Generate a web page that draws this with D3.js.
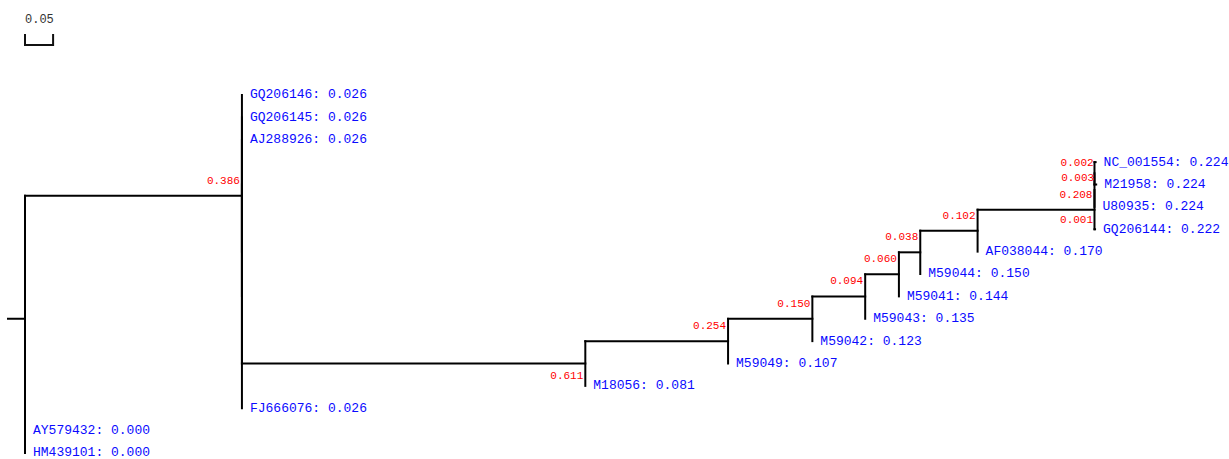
<!DOCTYPE html>
<html>
<head>
<meta charset="utf-8">
<script src="https://cdn.jsdelivr.net/npm/d3@7/dist/d3.min.js"></script>
<style>
  html, body { margin: 0; padding: 0; background: #fff; }
  svg { display: block; }
</style>
</head>
<body>
<div id="chart"></div>
<script>
// ---- data ----
const treeNewick =
  "((GQ206146:0,((GQ206145:0,(AJ288926:0,(((((((" +
  "(((NC_001554:0.002,M21958:0.003):0,U80935:0):0,GQ206144:0.001):0.208," +
  "AF038044:0):0.102,M59044:0):0.038,M59041:0):0.060,M59043:0):0.094," +
  "M59042:0):0.150,M59049:0):0.254,M18056:0):0.611):0):0,FJ666076:0):0):0.386," +
  "(AY579432:0,HM439101:0):0);";

const leafNames = ["GQ206146","GQ206145","AJ288926","NC_001554","M21958","U80935","GQ206144",
  "AF038044","M59044","M59041","M59043","M59042","M59049","M18056","FJ666076","AY579432","HM439101"];
const leafValues = ["0.026","0.026","0.026","0.224","0.224","0.224","0.222",
  "0.170","0.150","0.144","0.135","0.123","0.107","0.081","0.026","0.000","0.000"];
const scaleBarValue = 0.05;

// ---- styling ----
const W = 1229, H = 459;
const labelOffsetOverride = { "0.611": 13, "0.002": 1, "0.003": -6, "0.001": -9 };

// ---- newick parser ----
function parseNewick(s) {
  let i = 0;
  function node() {
    const n = { children: [] };
    if (s[i] === "(") {
      i++;
      n.children.push(node());
      while (s[i] === ",") { i++; n.children.push(node()); }
      i++; // ')'
    }
    let name = "";
    while (i < s.length && !":,);".includes(s[i])) name += s[i++];
    n.name = name;
    n.lenStr = null; n.length = 0;
    if (s[i] === ":") {
      i++;
      let l = "";
      while (i < s.length && !",);".includes(s[i])) l += s[i++];
      n.lenStr = l; n.length = +l;
    }
    return n;
  }
  return node();
}

const root = d3.hierarchy(parseNewick(treeNewick), d => d.children.length ? d.children : null);

const x = d3.scaleLinear().domain([0, 1]).range([25, 587]);
const y = d3.scalePoint().domain(leafNames).range([95, 453]);
const valueOf = new Map(leafNames.map((n, i) => [n, leafValues[i]]));

// positions
root.eachBefore(d => { d.dist = (d.parent ? d.parent.dist : 0) + d.data.length; });
root.eachAfter(d => {
  if (!d.children) d.yy = y(d.data.name);
  else d.yy = (d.children[0].yy + d.children[d.children.length - 1].yy) / 2;
});

const svg = d3.select("#chart").append("svg").attr("width", W).attr("height", H);

// scale bar
const sb = svg.append("g");
sb.append("path")
  .attr("d", `M${x(0)},34 V45 H${x(scaleBarValue)} V34`)
  .attr("fill", "none").attr("stroke", "#111").attr("stroke-width", 2);
sb.append("text").attr("x", x(0)).attr("y", 20)
  .attr("dominant-baseline", "middle")
  .attr("font-family", "Liberation Mono, DejaVu Sans Mono, monospace")
  .attr("font-size", 12).attr("fill", "#333").text(String(scaleBarValue));

const g = svg.append("g")
  .attr("fill", "none").attr("stroke", "#000").attr("stroke-width", 2)
  .attr("stroke-linecap", "square");

// root stub
g.append("line").attr("x1", x(0) - 17).attr("x2", x(0))
  .attr("y1", root.yy).attr("y2", root.yy);

// horizontals
root.descendants().filter(d => d.parent && d.data.length > 0).forEach(d => {
  g.append("line").attr("x1", x(d.parent.dist)).attr("x2", x(d.dist))
    .attr("y1", d.yy).attr("y2", d.yy);
});
// verticals
root.descendants().filter(d => d.children).forEach(d => {
  g.append("line").attr("x1", x(d.dist)).attr("x2", x(d.dist))
    .attr("y1", d.children[0].yy).attr("y2", d.children[d.children.length - 1].yy);
});

// branch length labels
root.descendants().filter(d => d.parent && d.data.length > 0).forEach(d => {
  const def = d.children ? -15 : -8;
  const off = labelOffsetOverride[d.data.lenStr] !== undefined ? labelOffsetOverride[d.data.lenStr] : def;
  svg.append("text")
    .attr("x", x(d.dist) - 2).attr("y", d.yy + off)
    .attr("text-anchor", "end").attr("dominant-baseline", "middle")
    .attr("font-family", "Liberation Mono, DejaVu Sans Mono, monospace")
    .attr("font-size", 11).attr("fill", "#ff0000")
    .text(d3.format(".3f")(d.data.length));
});

// leaf labels
root.leaves().forEach(d => {
  svg.append("text")
    .attr("x", x(d.dist) + 8).attr("y", d.yy)
    .attr("dominant-baseline", "middle")
    .attr("font-family", "Liberation Mono, DejaVu Sans Mono, monospace")
    .attr("font-size", 13).attr("fill", "#0a0aff")
    .text(`${d.data.name}: ${valueOf.get(d.data.name)}`);
});
</script>
</body>
</html>
